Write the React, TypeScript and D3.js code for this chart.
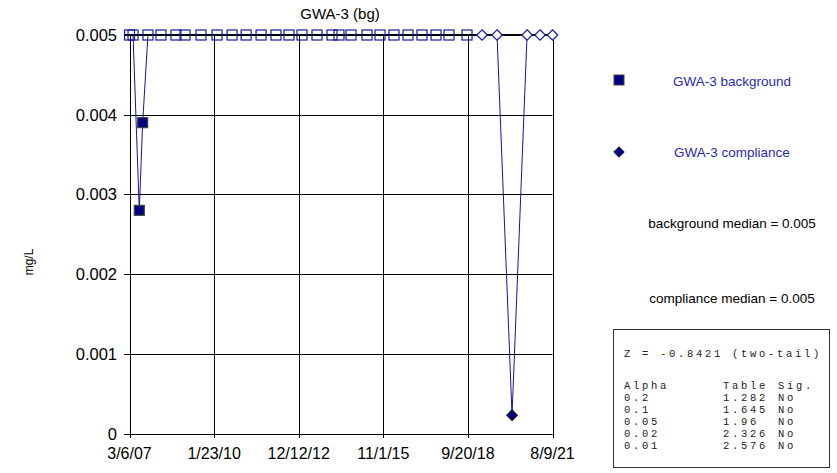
import { useEffect, useRef } from "react";
import * as d3 from "d3";

const bgDates: string[] = [
  "2007-03-06", "2007-04-19", "2007-07-06", "2007-08-17", "2007-10-22", "2008-04-01",
  "2008-10-05", "2009-01-26", "2009-08-13", "2010-03-01", "2010-09-04", "2011-02-26",
  "2011-08-31", "2012-03-04", "2012-08-13", "2013-01-22", "2013-07-28", "2014-01-31",
  "2014-04-28", "2014-09-25", "2015-04-12", "2015-09-21", "2016-03-13", "2016-09-04",
  "2017-02-25", "2017-08-19", "2018-01-28", "2018-09-09",
];
const bgValues: number[] = [
  0.005, 0.005, 0.0028, 0.0039, 0.005, 0.005,
  0.005, 0.005, 0.005, 0.005, 0.005, 0.005,
  0.005, 0.005, 0.005, 0.005, 0.005, 0.005,
  0.005, 0.005, 0.005, 0.005, 0.005, 0.005,
  0.005, 0.005, 0.005, 0.005,
];
const cmpDates: string[] = ["2019-03-15", "2019-09-18", "2020-03-23", "2020-09-26", "2021-03-07", "2021-08-09"];
const cmpValues: number[] = [0.005, 0.005, 0.00023, 0.005, 0.005, 0.005];

const xTickDates: string[] = ["2007-03-06", "2010-01-23", "2012-12-12", "2015-11-01", "2018-09-20", "2021-08-09"];
const xTickLabels: string[] = ["3/6/07", "1/23/10", "12/12/12", "11/1/15", "9/20/18", "8/9/21"];
const yTicks: number[] = [0, 0.001, 0.002, 0.003, 0.004, 0.005];

const statHeader = "Z = -0.8421 (two-tail)";
const alphas: string[] = ["0.2", "0.1", "0.05", "0.02", "0.01"];
const tableVals: string[] = ["1.282", "1.645", "1.96", "2.326", "2.576"];
const sigs: string[] = ["No", "No", "No", "No", "No"];

function App() {
  const svgRef = useRef<SVGSVGElement>(null);

  useEffect(() => {
    if (!svgRef.current) return;
    const svg = d3.select(svgRef.current);
    svg.selectAll("*").remove();

    const parse = d3.utcParse("%Y-%m-%d");
    const x = d3
      .scaleUtc()
      .domain([parse(xTickDates[0])!, parse(xTickDates[xTickDates.length - 1])!])
      .range([129.5, 552.5]);
    const y = d3.scaleLinear().domain([0, 0.005]).range([433.5, 35]);

    const font = "'Liberation Sans', Arial, sans-serif";
    const lineColor = "#1414a0";
    const navy = "#000080";

    // title
    svg.append("text").attr("x", 340).attr("y", 19).attr("text-anchor", "middle")
      .attr("font-family", font).attr("font-size", 15).text("GWA-3 (bg)");

    // y label
    svg.append("text").attr("transform", "translate(33,262) rotate(-90)").attr("text-anchor", "middle")
      .attr("font-family", font).attr("font-size", 12).text("mg/L");

    // grid
    const grid = svg.append("g").attr("stroke", "#000").attr("stroke-width", 1);
    yTicks.slice(0, -1).forEach((t) => {
      const yy = Math.round(y(t)) + 0.5;
      grid.append("line").attr("x1", 124).attr("x2", x.range()[1]).attr("y1", yy).attr("y2", yy);
    });
    xTickDates.forEach((d) => {
      const xx = Math.round(x(parse(d)!)) + 0.5;
      grid.append("line").attr("x1", xx).attr("x2", xx).attr("y1", y(0.005)).attr("y2", 438);
    });

    // y tick labels
    svg.append("g").selectAll("text").data(yTicks).join("text")
      .attr("x", 117).attr("y", (d) => y(d) + 6).attr("text-anchor", "end")
      .attr("font-family", font).attr("font-size", 16.5)
      .text((d) => (d === 0 ? "0" : d3.format(".3f")(d)));

    // x tick labels
    svg.append("g").selectAll("text").data(xTickDates).join("text")
      .attr("x", (d) => x(parse(d)!)).attr("y", 459).attr("text-anchor", "middle")
      .attr("font-family", font).attr("font-size", 16)
      .text((_, i) => xTickLabels[i]);

    const bg = bgDates.map((d, i) => ({ date: parse(d)!, v: bgValues[i] }));
    const cmp = cmpDates.map((d, i) => ({ date: parse(d)!, v: cmpValues[i] }));

    const line = d3.line<{ date: Date; v: number }>().x((d) => x(d.date)).y((d) => y(d.v));
    svg.append("path").datum(bg).attr("d", line).attr("fill", "none").attr("stroke", lineColor).attr("stroke-width", 1);
    svg.append("path").datum(cmp).attr("d", line).attr("fill", "none").attr("stroke", lineColor).attr("stroke-width", 1);

    // top line (0.005)
    svg.append("line").attr("x1", 124).attr("x2", x.range()[1]).attr("y1", y(0.005)).attr("y2", y(0.005))
      .attr("stroke", "#000").attr("stroke-width", 2);

    // markers
    const sq = 10;
    svg.append("g").selectAll("rect").data(bg).join("rect")
      .attr("x", (d) => x(d.date) - sq / 2).attr("y", (d) => y(d.v) - sq / 2)
      .attr("width", sq).attr("height", sq)
      .attr("fill", (d) => (d.v >= 0.005 ? "none" : navy))
      .attr("stroke", (d) => (d.v >= 0.005 ? "#1a1aa0" : "#444"))
      .attr("stroke-width", 1.2);

    const diamond = d3.symbol().type(d3.symbolDiamond2).size(70);
    svg.append("g").selectAll("path").data(cmp).join("path")
      .attr("transform", (d) => `translate(${x(d.date)},${y(d.v)})`)
      .attr("d", diamond)
      .attr("fill", (d) => (d.v >= 0.005 ? "#fff" : navy))
      .attr("stroke", (d) => (d.v >= 0.005 ? "#1a1aa0" : "#111"))
      .attr("stroke-width", 1.2);

    // legend
    svg.append("rect").attr("x", 614).attr("y", 75).attr("width", 10).attr("height", 10)
      .attr("fill", navy).attr("stroke", "#444").attr("stroke-width", 1);
    svg.append("path").attr("transform", "translate(619,152)").attr("d", diamond)
      .attr("fill", navy).attr("stroke", "#111").attr("stroke-width", 1);

    const legendText = [
      { t: "GWA-3 background", y: 86, c: "#2a2ab0" },
      { t: "GWA-3 compliance", y: 157, c: "#2a2ab0" },
      { t: "background median = 0.005", y: 228, c: "#000" },
      { t: "compliance median = 0.005", y: 303, c: "#000" },
    ];
    svg.append("g").selectAll("text").data(legendText).join("text")
      .attr("x", 732).attr("y", (d) => d.y).attr("text-anchor", "middle")
      .attr("font-family", font).attr("font-size", 13.5).attr("fill", (d) => d.c)
      .text((d) => d.t);

    // stats box
    const mono = "'Liberation Mono', 'Courier New', monospace";
    svg.append("rect").attr("x", 613.5).attr("y", 329.5).attr("width", 216).attr("height", 138)
      .attr("fill", "#fff").attr("stroke", "#333").attr("stroke-width", 1);
    const box = svg.append("g").attr("font-family", mono).attr("font-size", 10.5)
      .attr("letter-spacing", 2.7).attr("fill", "#222");
    box.append("text").attr("x", 624).attr("y", 357).text(statHeader);
    const cols = [624, 723, 778];
    ["Alpha", "Table", "Sig."].forEach((h, j) => box.append("text").attr("x", cols[j]).attr("y", 389).text(h));
    alphas.forEach((a, i) => {
      const yy = 401 + i * 12;
      box.append("text").attr("x", cols[0]).attr("y", yy).text(a);
      box.append("text").attr("x", cols[1]).attr("y", yy).text(tableVals[i]);
      box.append("text").attr("x", cols[2]).attr("y", yy).text(sigs[i]);
    });
  }, []);

  return (
    <svg
      ref={svgRef}
      width={837}
      height={473}
      style={{ position: "absolute", left: 0, top: 0, background: "#fff" }}
    ></svg>
  );
}

export default App;
